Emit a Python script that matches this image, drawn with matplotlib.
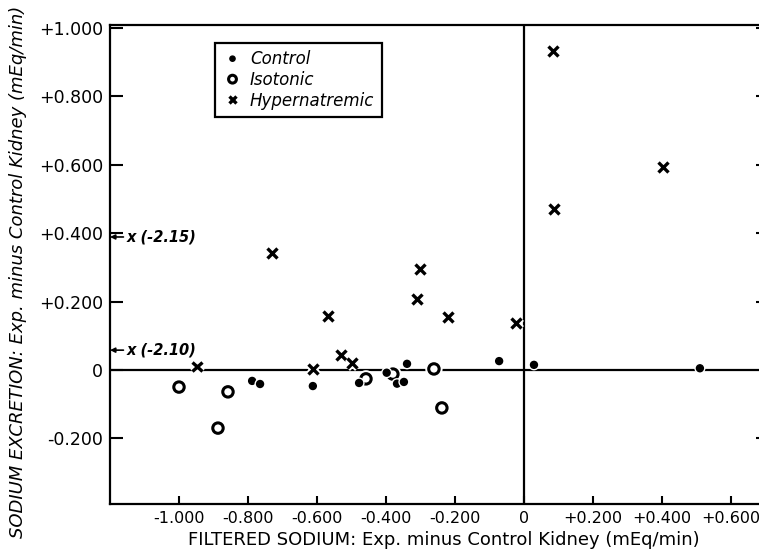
import matplotlib.pyplot as plt
import matplotlib.patheffects as pe

# values (mEq/min)
control_x = [-0.788, -0.765, -0.612, -0.478, -0.398, -0.368, -0.348, -0.339, -0.072, 0.029, 0.510]
control_y = [-0.032, -0.041, -0.047, -0.038, -0.008, -0.040, -0.035, 0.018, 0.026, 0.015, 0.005]

isotonic_x = [-1.000, -0.887, -0.858, -0.458, -0.380, -0.261, -0.238]
isotonic_y = [-0.050, -0.170, -0.064, -0.026, -0.012, 0.003, -0.111]

hyper_x = [-0.948, -0.730, -0.612, -0.568, -0.530, -0.499, -0.301, -0.311, -0.220, -0.023, 0.084, 0.087, 0.403]
hyper_y = [0.010, 0.342, 0.003, 0.157, 0.044, 0.020, 0.295, 0.208, 0.155, 0.137, 0.933, 0.471, 0.594]

x_ticks = [-1.0, -0.8, -0.6, -0.4, -0.2, 0.0, 0.2, 0.4, 0.6]
x_tick_labels = ['-1.000', '-0.800', '-0.600', '-0.400', '-0.200', '0', '+0.200', '+0.400', '+0.600']
y_ticks = [-0.2, 0.0, 0.2, 0.4, 0.6, 0.8, 1.0]
y_tick_labels = ['-0.200', '0', '+0.200', '+0.400', '+0.600', '+0.800', '+1.000']

# off-scale points noted at the left edge
offscale_y = [0.389, 0.058]
offscale_labels = ['x (-2.15)', 'x (-2.10)']

plt.rcParams['font.family'] = ['DejaVu Sans']

fig = plt.figure(figsize=(7.59, 5.5), dpi=100)
ax = fig.add_axes([110 / 759, 46 / 550, 652 / 759, 479 / 550])
ax.set_xlim(-1.2, 0.69)
ax.set_ylim(-0.392, 1.009)

for s in ax.spines.values():
    s.set_linewidth(1.6)

ax.axhline(0, color='black', lw=1.6, zorder=1)
ax.axvline(0, color='black', lw=1.6, zorder=1)

halo = [pe.withStroke(linewidth=5, foreground='white')]
ax.plot(isotonic_x, isotonic_y, 'o', ms=7.5, mfc='white', mec='black', mew=2.2,
        ls='none', label='Isotonic', zorder=3, path_effects=halo)
ax.plot(control_x, control_y, 'o', ms=5, color='black', ls='none',
        label='Control', zorder=4, path_effects=[pe.withStroke(linewidth=3, foreground='white')])
ax.plot(hyper_x, hyper_y, 'x', ms=7, color='black', mew=2.4, ls='none',
        label='Hypernatremic', zorder=5, path_effects=halo)

ax.set_xticks(x_ticks)
ax.set_xticklabels(x_tick_labels, fontsize=11.5)
ax.set_yticks(y_ticks)
ax.set_yticklabels(y_tick_labels, fontsize=12.5)
ax.tick_params(axis='x', direction='in', length=6, width=1.5, pad=5)
ax.tick_params(axis='y', direction='in', length=9, width=1.5, pad=5, right=True)
# right-side ticks are short stubs, none at zero
for t in ax.yaxis.get_major_ticks():
    t.tick2line.set_markersize(4)
    if abs(t.get_loc()) < 1e-9:
        t.tick2line.set_visible(False)

for yv, lab in zip(offscale_y, offscale_labels):
    ax.annotate(lab, xy=(-1.2, yv), xytext=(-1.153, yv), va='center', ha='left',
                fontsize=10.5, fontstyle='italic', fontweight='bold',
                arrowprops=dict(arrowstyle='-|>', color='black', lw=1.2,
                                mutation_scale=7, shrinkA=0, shrinkB=0))

handles, labels = ax.get_legend_handles_labels()
order = [1, 0, 2]
leg = ax.legend([handles[i] for i in order], [labels[i] for i in order],
                loc='upper left', bbox_to_anchor=(215 / 759, 1 - 43 / 550),
                bbox_transform=fig.transFigure, borderaxespad=0, frameon=True,
                fancybox=False, edgecolor='black', framealpha=1, borderpad=0.45,
                labelspacing=0.15, handlelength=1.2, handletextpad=0.45,
                markerscale=0.75, prop={'style': 'italic', 'size': 12})
leg.get_frame().set_linewidth(1.6)

fig.text(0.585, 0.018, 'FILTERED SODIUM: Exp. minus Control Kidney (mEq/min)',
         ha='center', va='center', fontsize=13)
fig.text(0.024, 0.505, 'SODIUM EXCRETION: Exp. minus Control Kidney (mEq/min)',
         ha='center', va='center', rotation=90, fontsize=13, fontstyle='italic')

fig.savefig('out.png', dpi=100)
